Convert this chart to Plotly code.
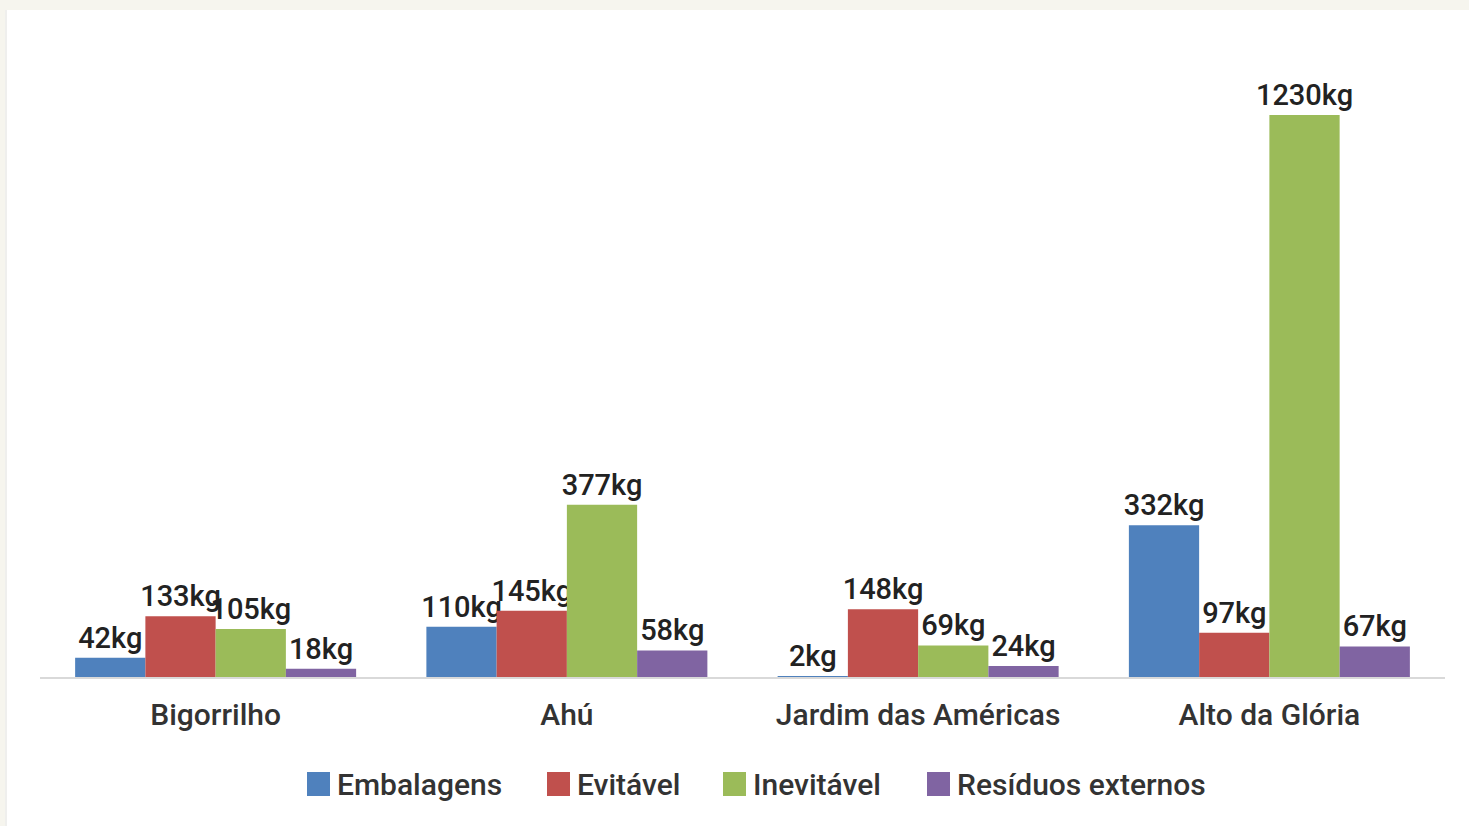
import plotly.graph_objects as go

# Waste weight (kg) by neighbourhood and category
bairros = ["Bigorrilho", "Ahú", "Jardim das Américas", "Alto da Glória"]
embalagens = [42, 110, 2, 332]
evitavel = [133, 145, 148, 97]
inevitavel = [105, 377, 69, 1230]
residuos_externos = [18, 58, 24, 67]

series_names = ["Embalagens", "Evitável", "Inevitável", "Resíduos externos"]
series_values = [embalagens, evitavel, inevitavel, residuos_externos]
colors = ["#4f81bd", "#c0504d", "#9bbb59", "#8064a2"]

W, H = 1469, 826
ML, MR, MT, MB = 40, 24, 40, 149
PW, PH = W - ML - MR, H - MT - MB


def px_x(px):
    return (px - ML) / PW


def px_y(py):
    return (H - MB - py) / PH


FONT = "Roboto, 'Open Sans', sans-serif"

fig = go.Figure()
for name, vals, col in zip(series_names, series_values, colors):
    fig.add_trace(go.Bar(
        x=bairros, y=vals, name=name,
        marker=dict(color=col, line=dict(width=0)),
        texttemplate="%{y}kg", textposition="outside",
        textfont=dict(family=FONT, size=29, color="#222222", weight=500),
        constraintext="none", cliponaxis=False,
        showlegend=False,
    ))

shapes = [
    # white card over the cream page background
    dict(type="rect", xref="paper", yref="paper", layer="below",
         x0=px_x(7), x1=px_x(W + 5), y0=px_y(H + 5), y1=px_y(10),
         fillcolor="white", line=dict(width=0)),
    dict(type="line", xref="paper", yref="paper", layer="below",
         x0=px_x(6), x1=px_x(6), y0=px_y(H + 5), y1=px_y(10),
         line=dict(color="#ececec", width=1.5)),
]
annotations = []

# Legend drawn as coloured squares with labels underneath the chart
legend_left = [307, 547, 723, 927]
legend_cy = 784
for name, col, lx in zip(series_names, colors, legend_left):
    shapes.append(dict(type="rect", xref="paper", yref="paper",
                       x0=px_x(lx), x1=px_x(lx + 23),
                       y0=px_y(legend_cy + 12), y1=px_y(legend_cy - 12),
                       fillcolor=col, line=dict(width=0)))
    annotations.append(dict(xref="paper", yref="paper", x=px_x(lx + 28),
                            y=px_y(legend_cy), text=name, showarrow=False,
                            xanchor="left", yanchor="middle",
                            font=dict(family=FONT, size=30, color="#333333",
                                      weight=500)))

fig.update_layout(
    width=W, height=H,
    margin=dict(l=ML, r=MR, t=MT, b=MB),
    paper_bgcolor="#f6f5ee",
    plot_bgcolor="rgba(0,0,0,0)",
    barmode="group", bargap=0.2, bargroupgap=0,
    showlegend=False,
    shapes=shapes, annotations=annotations,
    xaxis=dict(showline=True, linecolor="#d9d9d9", linewidth=2,
               ticks="", showgrid=False, zeroline=False,
               ticklabelstandoff=10,
               tickfont=dict(family=FONT, size=30, color="#333333",
                             weight=500)),
    yaxis=dict(range=[0, PH / 0.457], visible=False, showgrid=False,
               zeroline=False),
)

fig.write_html("out.html")
